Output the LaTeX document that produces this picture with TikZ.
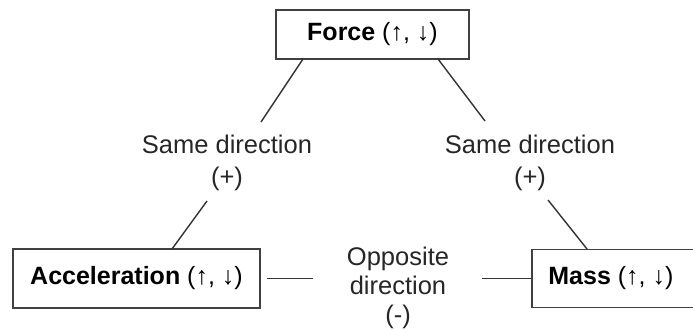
\documentclass[tikz,border=0pt]{standalone}
\usepackage{fontspec}
\setmainfont{Liberation Sans}
\begin{document}
\begin{tikzpicture}[x=1pt,y=-1pt,
  box/.style={draw=black!75, line width=1.8pt, rectangle, inner sep=0pt, font=\fontsize{25}{29}\selectfont},
  conn/.style={draw=black!80, line width=1.4pt},
  lbl/.style={inner sep=0pt, align=center, text=black!85}]
\useasboundingbox (0,0) rectangle (693,331);
\node[box, minimum width=193, minimum height=49] (force) at (372.5,34.5) {\raisebox{-1.5pt}{\textbf{Force} (↑, ↓)}};
\node[box, minimum width=247, minimum height=59] (acc) at (136.5,278.5) {\textbf{Acceleration} (↑, ↓)};
\node[box, minimum width=162, minimum height=58, anchor=west] (mass) at (531,278.5) {\hspace{-4pt}\textbf{Mass} (↑, ↓)\hspace{12pt}};
\node[lbl, anchor=north, font=\fontsize{25.5}{32}\selectfont] (lsame) at (227,135) {Same direction\\(+)};
\node[lbl, anchor=north, font=\fontsize{25.5}{32}\selectfont] (rsame) at (530,135) {Same direction\\(+)};
\node[lbl, anchor=north, font=\fontsize{25.5}{29}\selectfont] (opp) at (398,247) {Opposite\\direction\\(-)};
\coordinate (f1) at (303,59);
\coordinate (l1) at (261,122);
\coordinate (f2) at (438,59);
\coordinate (r1) at (485,121);
\coordinate (l2) at (207,201);
\coordinate (a1) at (172,249);
\coordinate (r2) at (548,200);
\coordinate (m1) at (587,249);
\coordinate (h1) at (267,278.5);
\coordinate (h2) at (313,278.5);
\coordinate (h3) at (482,278.5);
\draw[conn] (f1) -- (l1);
\draw[conn] (f2) -- (r1);
\draw[conn] (l2) -- (a1);
\draw[conn] (r2) -- (m1);
\draw[conn] (h1) -- (h2);
\draw[conn] (h3) -- (mass.west);
\end{tikzpicture}
\end{document}
